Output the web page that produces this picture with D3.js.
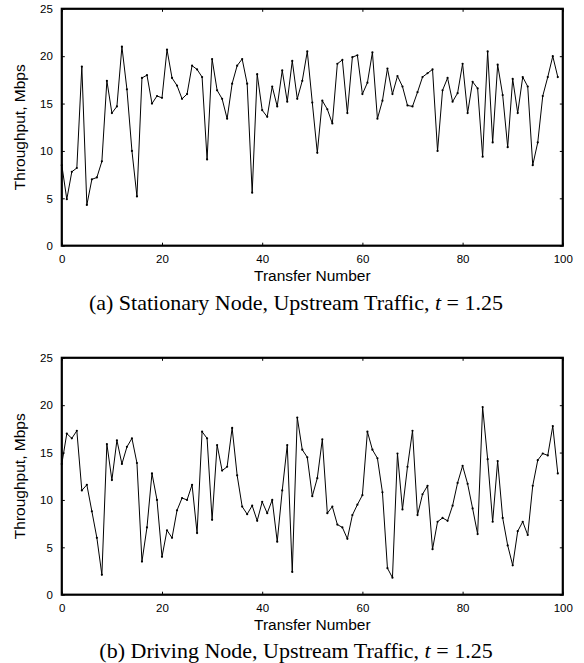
<!DOCTYPE html>
<html>
<head>
<meta charset="utf-8">
<script src="https://cdn.jsdelivr.net/npm/d3@7"></script>
<style>
  body { margin: 0; background: #fff; }
  svg { display: block; }
</style>
</head>
<body>
<div id="chart"></div>
<script>
// Throughput per transfer
const stationaryUp = [
  8.5, 4.9, 7.8, 8.2, 18.9, 4.3, 7.0, 7.2, 8.9, 17.4,
  14.0, 14.7, 21.0, 16.5, 10.0, 5.2, 17.7, 18.0, 15.0, 15.8,
  15.6, 20.7, 17.7, 16.9, 15.5, 16.0, 19.0, 18.6, 17.8, 9.1,
  19.7, 16.4, 15.5, 13.4, 17.1, 19.0, 19.7, 17.1, 5.6, 18.1,
  14.3, 13.6, 16.8, 14.7, 18.5, 15.2, 19.5, 15.5, 17.4, 20.5,
  15.1, 9.8, 15.3, 14.4, 12.9, 19.2, 19.6, 14.0, 19.9, 20.1,
  16.0, 17.2, 20.4, 13.4, 15.3, 18.7, 16.0, 17.9, 16.8, 14.8,
  14.7, 16.2, 17.8, 18.2, 18.6, 10.0, 16.4, 17.7, 15.2, 16.1,
  19.2, 14.0, 17.3, 16.6, 9.4, 20.5, 10.9, 19.1, 15.9, 10.4,
  17.6, 14.0, 17.8, 16.8, 8.5, 10.9, 15.8, 17.8, 20.0, 17.8
];
const drivingUp = [
  13.8, 17.0, 16.5, 17.3, 11.0, 11.6, 8.8, 6.0, 2.1, 15.9,
  12.1, 16.3, 13.8, 15.6, 16.5, 13.9, 3.5, 7.1, 12.8, 10.0,
  4.0, 6.8, 6.0, 8.9, 10.2, 10.0, 11.6, 6.5, 17.2, 16.5,
  7.9, 15.8, 13.1, 13.5, 17.6, 12.6, 9.3, 8.5, 9.4, 7.8,
  9.8, 8.6, 10.0, 5.6, 11.0, 15.8, 2.4, 18.7, 15.3, 14.5,
  10.4, 12.3, 16.4, 8.6, 9.3, 7.4, 7.1, 5.9, 8.4, 9.5,
  10.5, 17.2, 15.3, 14.4, 10.8, 2.8, 1.8, 14.9, 9.0, 13.5,
  17.3, 8.4, 10.6, 11.5, 4.8, 7.7, 8.1, 7.8, 9.4, 11.8,
  13.6, 11.7, 9.1, 6.4, 19.8, 14.3, 7.7, 14.1, 8.1, 5.2,
  3.1, 6.7, 7.7, 6.3, 11.5, 14.2, 14.9, 14.7, 17.8, 12.8
];
const xTicks = [0, 20, 40, 60, 80, 100];
const yTicks = [0, 5, 10, 15, 20, 25];
const panels = [
  {values: stationaryUp, label: "(a) Stationary Node, Upstream Traffic, "},
  {values: drivingUp, label: "(b) Driving Node, Upstream Traffic, "}
];

const W = 584, H = 663;
const plot = {left: 61.8, right: 562.8, height: 236.9};
const panelTops = [8.8, 357.8];
const captionY = [310, 658.3];
const sans = "'Liberation Sans', Arial, Helvetica, sans-serif";
const serif = "'Liberation Serif', 'Times New Roman', serif";

const svg = d3.select("#chart").append("svg")
    .attr("width", W)
    .attr("height", H);

const x = d3.scaleLinear().domain([0, 100]).range([0, plot.right - plot.left]);
const y = d3.scaleLinear().domain([0, 25]).range([plot.height, 0]);
const pw = plot.right - plot.left;

panels.forEach((p, k) => {
    const g = svg.append("g")
        .attr("transform", `translate(${plot.left},${panelTops[k]})`);

    // Left axis with labels, ticks pointing inward
    g.append("g")
        .call(d3.axisLeft(y).tickValues(yTicks).tickSizeInner(-3).tickSizeOuter(0).tickPadding(9))
        .call(a => a.select(".domain").remove())
        .selectAll("text")
            .style("font-family", sans)
            .style("font-size", "11.5px");

    // Bottom axis with labels
    g.append("g")
        .attr("transform", `translate(0,${plot.height})`)
        .call(d3.axisBottom(x).tickValues(xTicks).tickSizeInner(-3).tickSizeOuter(0).tickPadding(9.5))
        .call(a => a.select(".domain").remove())
        .selectAll("text")
            .style("font-family", sans)
            .style("font-size", "11.5px");

    // Top and right: ticks only
    g.append("g")
        .call(d3.axisTop(x).tickValues(xTicks).tickSizeInner(-3).tickSizeOuter(0).tickFormat(""))
        .call(a => a.select(".domain").remove());
    g.append("g")
        .attr("transform", `translate(${pw},0)`)
        .call(d3.axisRight(y).tickValues(yTicks).tickSizeInner(-3).tickSizeOuter(0).tickFormat(""))
        .call(a => a.select(".domain").remove());

    // The series
    const line = d3.line()
        .x((d, i) => x(i))
        .y(d => y(d));
    g.append("path")
        .datum(p.values)
        .attr("fill", "none")
        .attr("stroke", "#000")
        .attr("stroke-width", 1)
        .attr("stroke-linejoin", "round")
        .attr("d", line);

    g.selectAll(".pt")
        .data(p.values)
        .join("circle")
        .attr("class", "pt")
        .attr("cx", (d, i) => x(i))
        .attr("cy", d => y(d))
        .attr("r", 1.1)
        .attr("fill", "#000");

    // Frame box
    g.append("rect")
        .attr("x", 0)
        .attr("y", 0)
        .attr("width", pw)
        .attr("height", plot.height)
        .attr("fill", "none")
        .attr("stroke", "#000")
        .attr("stroke-width", 2.2);

    // Axis titles
    g.append("text")
        .attr("x", pw / 2)
        .attr("y", 272)
        .attr("text-anchor", "middle")
        .style("font-family", sans)
        .style("font-size", "15.5px")
        .text("Transfer Number");

    g.append("text")
        .attr("transform", `translate(${24.5 - plot.left},${plot.height / 2}) rotate(-90)`)
        .attr("text-anchor", "middle")
        .style("font-family", sans)
        .style("font-size", "15.5px")
        .text("Throughput, Mbps");
});

// Captions under each panel
panels.forEach((p, k) => {
    const cap = svg.append("text")
        .attr("x", 296)
        .attr("y", captionY[k])
        .attr("text-anchor", "middle")
        .style("font-family", serif)
        .style("font-size", "22px");
    cap.append("tspan").text(p.label);
    cap.append("tspan").style("font-style", "italic").text("t");
    cap.append("tspan").text(" = 1.25");
});
</script>
</body>
</html>
